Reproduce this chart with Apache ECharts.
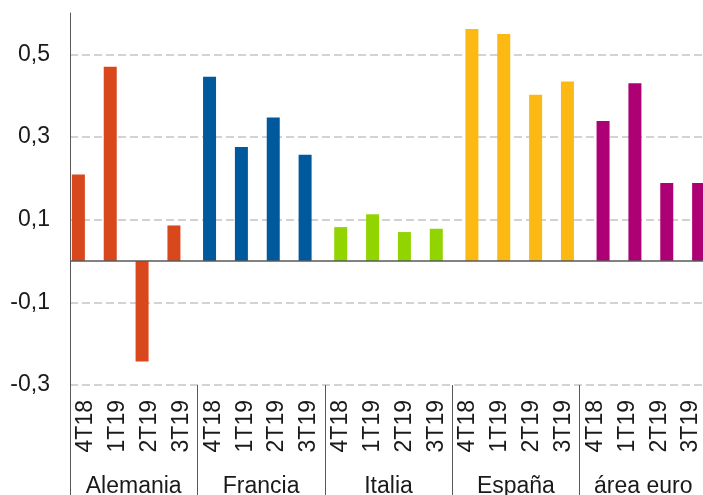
<!DOCTYPE html>
<html>
<head>
<meta charset="utf-8">
<script src="https://cdn.jsdelivr.net/npm/echarts@6/dist/echarts.min.js"></script>
<style>
  html, body { margin: 0; padding: 0; background: #fff; }
  #main { width: 703px; height: 495px; }
</style>
</head>
<body>
<div id="main"></div>
<script>
// trimestres y países
var quarters = ['4T18', '1T19', '2T19', '3T19'];
var countries = ['Alemania', 'Francia', 'Italia', 'España', 'área euro'];
var colors = ['#D9481C', '#00599D', '#92D400', '#FDB913', '#AE0075'];

var alemania = [0.209, 0.470, -0.243, 0.086];
var francia  = [0.446, 0.276, 0.347, 0.257];
var italia   = [0.082, 0.113, 0.070, 0.078];
var espana   = [0.561, 0.549, 0.402, 0.434];
var areaEuro = [0.339, 0.430, 0.189, 0.189];

var yTicks = [-0.3, -0.1, 0.1, 0.3, 0.5];

var values = [alemania, francia, italia, espana, areaEuro];
var font = "'Liberation Sans', Arial, sans-serif";

// eje de categorías: 4 trimestres por país
var cats = [];
countries.forEach(function (c, g) {
    quarters.forEach(function (q, i) { cats.push(g + '|' + q); });
});

// una serie por país, vacía fuera de su bloque
var series = countries.map(function (c, g) {
    var d = [];
    countries.forEach(function (c2, g2) {
        quarters.forEach(function (q, i) {
            d.push(g2 === g ? values[g][i] : null);
        });
    });
    var s = {
        name: c,
        type: 'bar',
        xAxisIndex: 0,
        data: d,
        barWidth: 13,
        barGap: '-71%',
        itemStyle: { color: colors[g] },
        emphasis: { disabled: true }
    };
    if (g === 0) {
        s.markLine = {
            silent: true,
            symbol: 'none',
            label: { show: false },
            lineStyle: { color: '#595959', width: 1.5, type: 'solid' },
            data: [{ yAxis: 0 }]
        };
    }
    return s;
});

var myChart = echarts.init(document.getElementById('main'));
var option = {
    animation: false,
    grid: { left: 70, right: -4, top: 13, bottom: 110, outerBoundsMode: 'none' },
    xAxis: [{
        type: 'category',
        data: cats,
        position: 'bottom',
        axisLine: { show: false, onZero: false },
        axisTick: { show: false },
        axisLabel: {
            interval: 0,
            rotate: 90,
            margin: 15,
            fontSize: 23,
            fontFamily: font,
            color: '#1a1a1a',
            formatter: function (v) { return v.split('|')[1]; }
        }
    }, {
        type: 'category',
        data: countries,
        position: 'bottom',
        axisLine: { show: false, onZero: false },
        axisTick: { show: true, length: 110, lineStyle: { color: '#595959', width: 1 } },
        axisLabel: {
            interval: 0,
            margin: 90,
            fontSize: 23,
            fontFamily: font,
            color: '#1a1a1a'
        }
    }],
    yAxis: {
        type: 'value',
        min: yTicks[0],
        max: 0.6,
        interval: 0.2,
        axisLine: { show: true, lineStyle: { color: '#595959', width: 1 } },
        axisTick: { show: false },
        axisLabel: {
            margin: 20,
            fontSize: 23,
            fontFamily: font,
            color: '#1a1a1a',
            showMaxLabel: false,
            formatter: function (v) { return v.toFixed(1).replace('.', ','); }
        },
        splitLine: {
            show: true,
            showMaxLine: false,
            lineStyle: { color: '#c4c4c4', width: 1.5, type: [8, 4] }
        }
    },
    series: series
};
myChart.setOption(option);
</script>
</body>
</html>
